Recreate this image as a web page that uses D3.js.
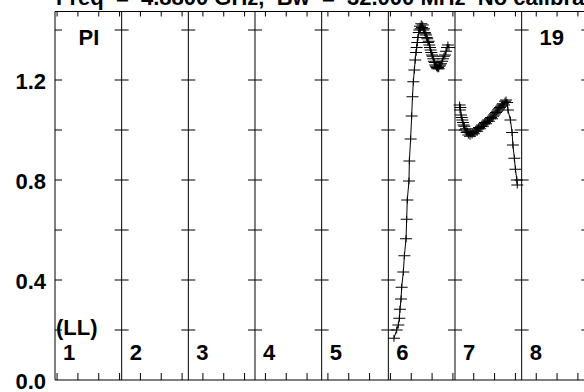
<!DOCTYPE html>
<html><head><meta charset="utf-8">
<script src="https://cdn.jsdelivr.net/npm/d3@7"></script>
<style>
body{margin:0;background:#fff;}
svg{display:block;}
text{font-family:"Liberation Sans",Arial,Helvetica,sans-serif;font-weight:bold;fill:#000;}
</style>
</head><body>
<svg id="c" width="584" height="392"></svg>
<script>
// ---- data ----
const titleText = "Freq  =  4.8800 GHz,  Bw  =  32.000 MHz  No calibration";
const stokesLabel = "PI";
const polLabel = "(LL)";
const cornerLabel = "19";
const panelLabels = ["1","2","3","4","5","6","7","8"];
const panelEdges = [-1, 31, 63, 95, 127, 159, 191, 223, 255];
const xTickValues = d3.range(0, 251, 10);
const yLabelValues = [0.0, 0.4, 0.8, 1.2];
const yLabelTexts = ["0.0", "0.4", "0.8", "1.2"];
const yCrossTicks = [0.2, 0.4, 0.6, 0.8, 1.0, 1.2, 1.4];

const panel6Time = [161.7,163.0,163.8,164.3,164.6,165.1,165.4,166.2,166.7,167.5,167.8,168.1,168.9,169.1,169.7,170.2,170.6,171.0,171.5,171.9,172.3,172.6,172.9,173.2,173.6,173.9,174.2,174.5,174.8,175.2,175.5,175.8,176.1,176.5,176.7,177.1,177.4,177.7,178.0,178.4,178.7,179.0,179.3,179.6,180.0,180.3,180.6,180.9,181.3,181.5,181.9,182.2,182.5,182.8,183.2,183.5,183.8,184.3,184.8,185.2,185.7,186.2,186.7,187.2,187.6,188.1];
const panel6Value = [0.167,0.20,0.22,0.247,0.283,0.324,0.371,0.432,0.497,0.565,0.643,0.72,0.796,0.876,0.964,1.056,1.133,1.193,1.24,1.28,1.31,1.33,1.35,1.37,1.39,1.40,1.415,1.405,1.425,1.41,1.42,1.40,1.405,1.39,1.385,1.38,1.37,1.365,1.35,1.355,1.34,1.33,1.32,1.31,1.30,1.295,1.285,1.275,1.27,1.26,1.255,1.25,1.245,1.25,1.245,1.255,1.26,1.265,1.275,1.285,1.295,1.30,1.315,1.33,1.34,1.33];

const panel7Time = [193.2,193.4,193.6,193.9,194.2,194.5,194.8,195.1,195.5,195.8,196.3,196.6,197.0,197.4,197.7,198.2,198.7,199.2,199.6,200.1,200.6,201.1,201.6,202.0,202.5,203.0,203.5,204.0,204.4,204.9,205.4,205.9,206.4,206.8,207.3,207.8,208.3,208.8,209.2,209.7,210.2,210.7,211.2,211.6,212.1,212.6,213.1,213.6,214.0,214.5,215.0,215.5,216.0,216.4,217.6,218.4,218.8,219.5,220.0,220.7,220.9];
const panel7Value = [1.10,1.08,1.09,1.06,1.05,1.04,1.03,1.02,1.015,1.00,1.005,0.99,0.995,0.98,0.99,0.975,0.985,0.98,0.99,0.985,0.995,1.00,0.995,1.005,1.01,1.005,1.015,1.02,1.015,1.025,1.03,1.025,1.035,1.04,1.035,1.045,1.05,1.045,1.055,1.06,1.065,1.07,1.075,1.08,1.085,1.09,1.095,1.10,1.105,1.10,1.115,1.12,1.11,1.08,1.04,0.99,0.94,0.887,0.843,0.80,0.78];

// ---- scales ----
const svg = d3.select("#c");
const x = d3.scaleLinear().domain([-1, 255]).range([55, 588.33]);
const y = d3.scaleLinear().domain([0, 1.474]).range([380, 11.5]);
const g = svg.append("g");

// frame
g.append("line").attr("x1", x(-1)).attr("x2", x(255)).attr("y1", y(0)).attr("y2", y(0)).attr("stroke", "#000").attr("stroke-width", 1.2);
g.append("line").attr("x1", x(-1)).attr("x2", x(255)).attr("y1", y(1.474)).attr("y2", y(1.474)).attr("stroke", "#000").attr("stroke-width", 1);
// vertical panel edges
g.selectAll(".edge").data(panelEdges).join("line")
  .attr("x1", d => x(d)).attr("x2", d => x(d))
  .attr("y1", y(0)).attr("y2", y(1.474))
  .attr("stroke", "#000").attr("stroke-width", 1);

// cross ticks on edges
panelEdges.forEach((e, i) => {
  const left = i === 0 ? 0 : 7;
  const right = i === panelEdges.length - 1 ? 0 : 7;
  g.selectAll(null).data(yCrossTicks).join("line")
    .attr("x1", x(e) - left).attr("x2", x(e) + right)
    .attr("y1", d => y(d)).attr("y2", d => y(d))
    .attr("stroke", "#000").attr("stroke-width", 1);
});

// top / bottom time ticks
g.selectAll(".bt").data(xTickValues).join("line")
  .attr("x1", d => x(d)).attr("x2", d => x(d))
  .attr("y1", y(0)).attr("y2", y(0) - 7)
  .attr("stroke", "#000").attr("stroke-width", 1);
g.selectAll(".tt").data(xTickValues).join("line")
  .attr("x1", d => x(d)).attr("x2", d => x(d))
  .attr("y1", y(1.474)).attr("y2", y(1.474) + 5)
  .attr("stroke", "#000").attr("stroke-width", 1);

// data
function drawSeries(times, values) {
  const pts = times.map((t, i) => [t, values[i]]);
  g.append("path").datum(pts)
    .attr("d", d3.line().x(d => x(d[0])).y(d => y(d[1])))
    .attr("fill", "none").attr("stroke", "#000").attr("stroke-width", 1);
  const m = g.append("g");
  m.selectAll(null).data(pts).join("path")
    .attr("d", d => {
      const px = x(d[0]), py = y(d[1]);
      return `M${px-6},${py}H${px+6}M${px},${py-3.5}V${py+3.5}`;
    })
    .attr("stroke", "#000").attr("stroke-width", 1).attr("fill", "none");
}
drawSeries(panel6Time, panel6Value);
drawSeries(panel7Time, panel7Value);

// y labels
svg.selectAll(".yl").data(yLabelValues).join("text")
  .attr("x", 46).attr("y", d => y(d) + 8.5)
  .attr("text-anchor", "end").attr("font-size", 22)
  .text((d, i) => yLabelTexts[i]);

// panel numbers
svg.selectAll(".pn").data(panelLabels).join("text")
  .attr("x", (d, i) => x(panelEdges[i]) + 8).attr("y", 359.5)
  .attr("font-size", 22).text(d => d);

svg.append("text").attr("x", 78.5).attr("y", 45).attr("font-size", 22).text(stokesLabel);
svg.append("text").attr("x", 539.5).attr("y", 45).attr("font-size", 22).text(cornerLabel);
svg.append("text").attr("x", 56).attr("y", 335).attr("font-size", 22).text(polLabel);
svg.append("text").attr("x", 56).attr("y", 5).attr("font-size", 22)
  .style("white-space", "pre").text(titleText);
</script>
</body></html>
